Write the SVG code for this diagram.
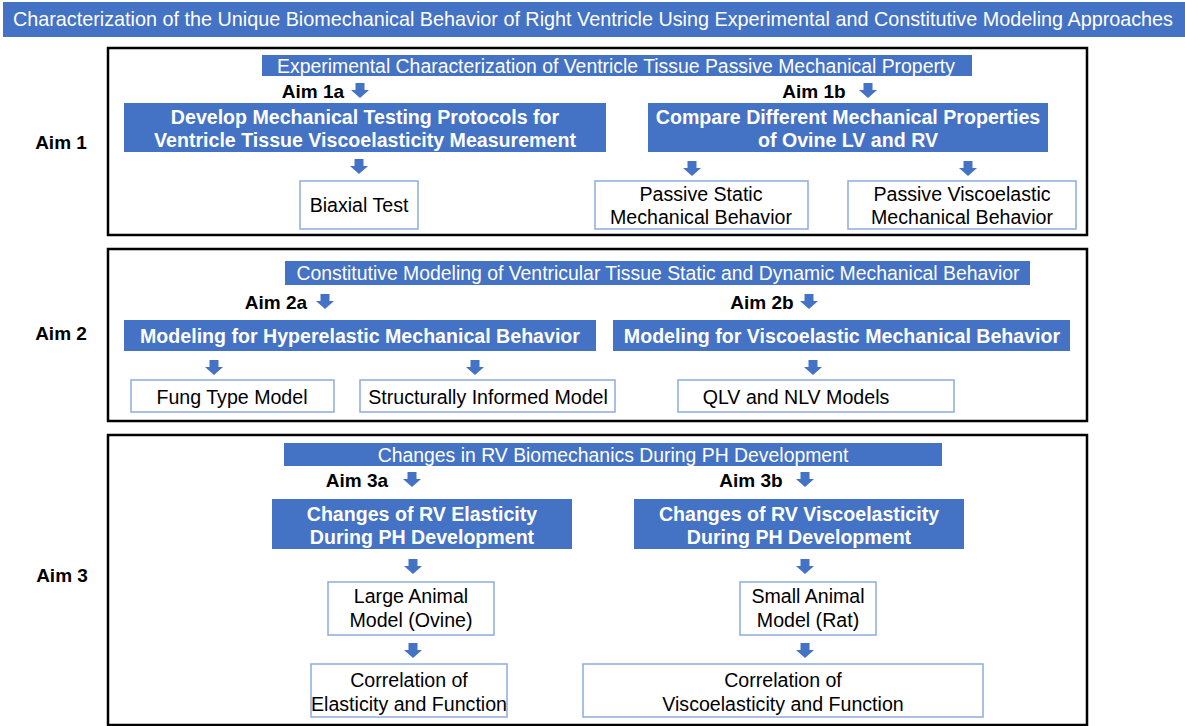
<svg xmlns="http://www.w3.org/2000/svg" width="1185" height="726" viewBox="0 0 1185 726">
<defs>
<style>
text{font-family:"Liberation Sans",Arial,sans-serif;text-anchor:middle}
.bar{fill:#4472C4}
.hdr{fill:#fff;font-size:19.4px}
.ttl{fill:#fff;font-size:19.8px}
.bt{fill:#fff;font-size:19.6px;font-weight:bold}
.wb{fill:#fff;stroke:#8FAADC;stroke-width:1.5}
.wt{fill:#000;font-size:19.6px}
.frame{fill:#fff;stroke:#000;stroke-width:2.5}
.aim{fill:#000;font-size:19px;font-weight:bold}
.arr{fill:#4472C4}
</style>
<path id="dn" d="M-4.5,0 H4.5 V7 H9 L0,15 L-9,7 H-4.5 Z"/>
</defs>
<rect x="0" y="0" width="1185" height="726" fill="#fff"/>
<g id="title">
<rect class="bar" x="3" y="2" width="1182" height="35"/>
<text class="ttl" x="593" y="26">Characterization of the Unique Biomechanical Behavior of Right Ventricle Using Experimental and Constitutive Modeling Approaches</text>
</g>

<g id="aim1">
<rect class="frame" x="108" y="48" width="979" height="187"/>
<text class="aim" x="61" y="149">Aim 1</text>
<rect class="bar" x="262" y="55" width="710" height="21"/>
<text class="hdr" x="616" y="73">Experimental Characterization of Ventricle Tissue Passive Mechanical Property</text>
<text class="aim" x="313" y="98">Aim 1a</text>
<text class="aim" x="814" y="98">Aim 1b</text>
</g>
<g id="n1a">
<rect class="bar" x="124" y="103" width="482" height="49"/>
<text class="bt" x="365" y="124">Develop Mechanical Testing Protocols for</text>
<text class="bt" x="365" y="147">Ventricle Tissue Viscoelasticity Measurement</text>
</g>
<g id="n1b">
<rect class="bar" x="648" y="103" width="400" height="49"/>
<text class="bt" x="848" y="124">Compare Different Mechanical Properties</text>
<text class="bt" x="848" y="147">of Ovine LV and RV</text>
</g>
<g id="biaxial">
<rect class="wb" x="300" y="181" width="118" height="48"/>
<text class="wt" x="359" y="212">Biaxial Test</text>
</g>
<g id="static">
<rect class="wb" x="595" y="181" width="213" height="48"/>
<text class="wt" x="701" y="201">Passive Static</text>
<text class="wt" x="701" y="224">Mechanical Behavior</text>
</g>
<g id="visco">
<rect class="wb" x="848" y="181" width="228" height="48"/>
<text class="wt" x="962" y="201">Passive Viscoelastic</text>
<text class="wt" x="962" y="224">Mechanical Behavior</text>
</g>

<g id="aim2">
<rect class="frame" x="108" y="249" width="979" height="172"/>
<text class="aim" x="61" y="340">Aim 2</text>
<rect class="bar" x="285" y="261" width="745" height="24"/>
<text class="hdr" x="658" y="280">Constitutive Modeling of Ventricular Tissue Static and Dynamic Mechanical Behavior</text>
<text class="aim" x="276" y="309">Aim 2a</text>
<text class="aim" x="762" y="309">Aim 2b</text>
</g>
<g id="n2a">
<rect class="bar" x="124" y="320" width="472" height="31"/>
<text class="bt" x="360" y="343">Modeling for Hyperelastic Mechanical Behavior</text>
</g>
<g id="n2b">
<rect class="bar" x="613" y="320" width="457" height="31"/>
<text class="bt" x="842" y="343">Modeling for Viscoelastic Mechanical Behavior</text>
</g>
<g id="fung">
<rect class="wb" x="131" y="380" width="203" height="32"/>
<text class="wt" x="232" y="404">Fung Type Model</text>
</g>
<g id="struct">
<rect class="wb" x="360" y="380" width="255" height="32"/>
<text class="wt" x="488" y="404">Structurally Informed Model</text>
</g>
<g id="qlv">
<rect class="wb" x="678" y="380" width="276" height="32"/>
<text class="wt" x="796" y="404">QLV and NLV Models</text>
</g>

<g id="aim3">
<rect class="frame" x="108" y="435" width="979" height="290"/>
<text class="aim" x="62" y="582">Aim 3</text>
<rect class="bar" x="284" y="443" width="658" height="23"/>
<text class="hdr" x="613" y="462">Changes in RV Biomechanics During PH Development</text>
<text class="aim" x="357" y="487">Aim 3a</text>
<text class="aim" x="751" y="487">Aim 3b</text>
</g>
<g id="n3a">
<rect class="bar" x="272" y="499" width="300" height="50"/>
<text class="bt" x="422" y="521">Changes of RV Elasticity</text>
<text class="bt" x="422" y="544">During PH Development</text>
</g>
<g id="n3b">
<rect class="bar" x="634" y="499" width="330" height="50"/>
<text class="bt" x="799" y="521">Changes of RV Viscoelasticity</text>
<text class="bt" x="799" y="544">During PH Development</text>
</g>
<g id="large">
<rect class="wb" x="328" y="582" width="166" height="53"/>
<text class="wt" x="411" y="603">Large Animal</text>
<text class="wt" x="411" y="627">Model (Ovine)</text>
</g>
<g id="small">
<rect class="wb" x="740" y="582" width="136" height="53"/>
<text class="wt" x="808" y="603">Small Animal</text>
<text class="wt" x="808" y="627">Model (Rat)</text>
</g>
<g id="corrA">
<rect class="wb" x="311" y="664" width="196" height="53"/>
<text class="wt" x="409" y="687">Correlation of</text>
<text class="wt" x="409" y="711">Elasticity and Function</text>
</g>
<g id="corrB">
<rect class="wb" x="583" y="664" width="400" height="53"/>
<text class="wt" x="783" y="687">Correlation of</text>
<text class="wt" x="783" y="711">Viscoelasticity and Function</text>
</g>

<g id="connectors" class="arr">
<use href="#dn" x="360" y="83"/>
<use href="#dn" x="868" y="83"/>
<use href="#dn" x="359" y="159"/>
<use href="#dn" x="692" y="161"/>
<use href="#dn" x="968" y="161"/>
<use href="#dn" x="325" y="294"/>
<use href="#dn" x="809" y="294"/>
<use href="#dn" x="214" y="360"/>
<use href="#dn" x="475" y="360"/>
<use href="#dn" x="813" y="360"/>
<use href="#dn" x="412" y="472"/>
<use href="#dn" x="805" y="472"/>
<use href="#dn" x="413" y="559"/>
<use href="#dn" x="805" y="559"/>
<use href="#dn" x="413" y="643"/>
<use href="#dn" x="805" y="643"/>
</g>
</svg>
